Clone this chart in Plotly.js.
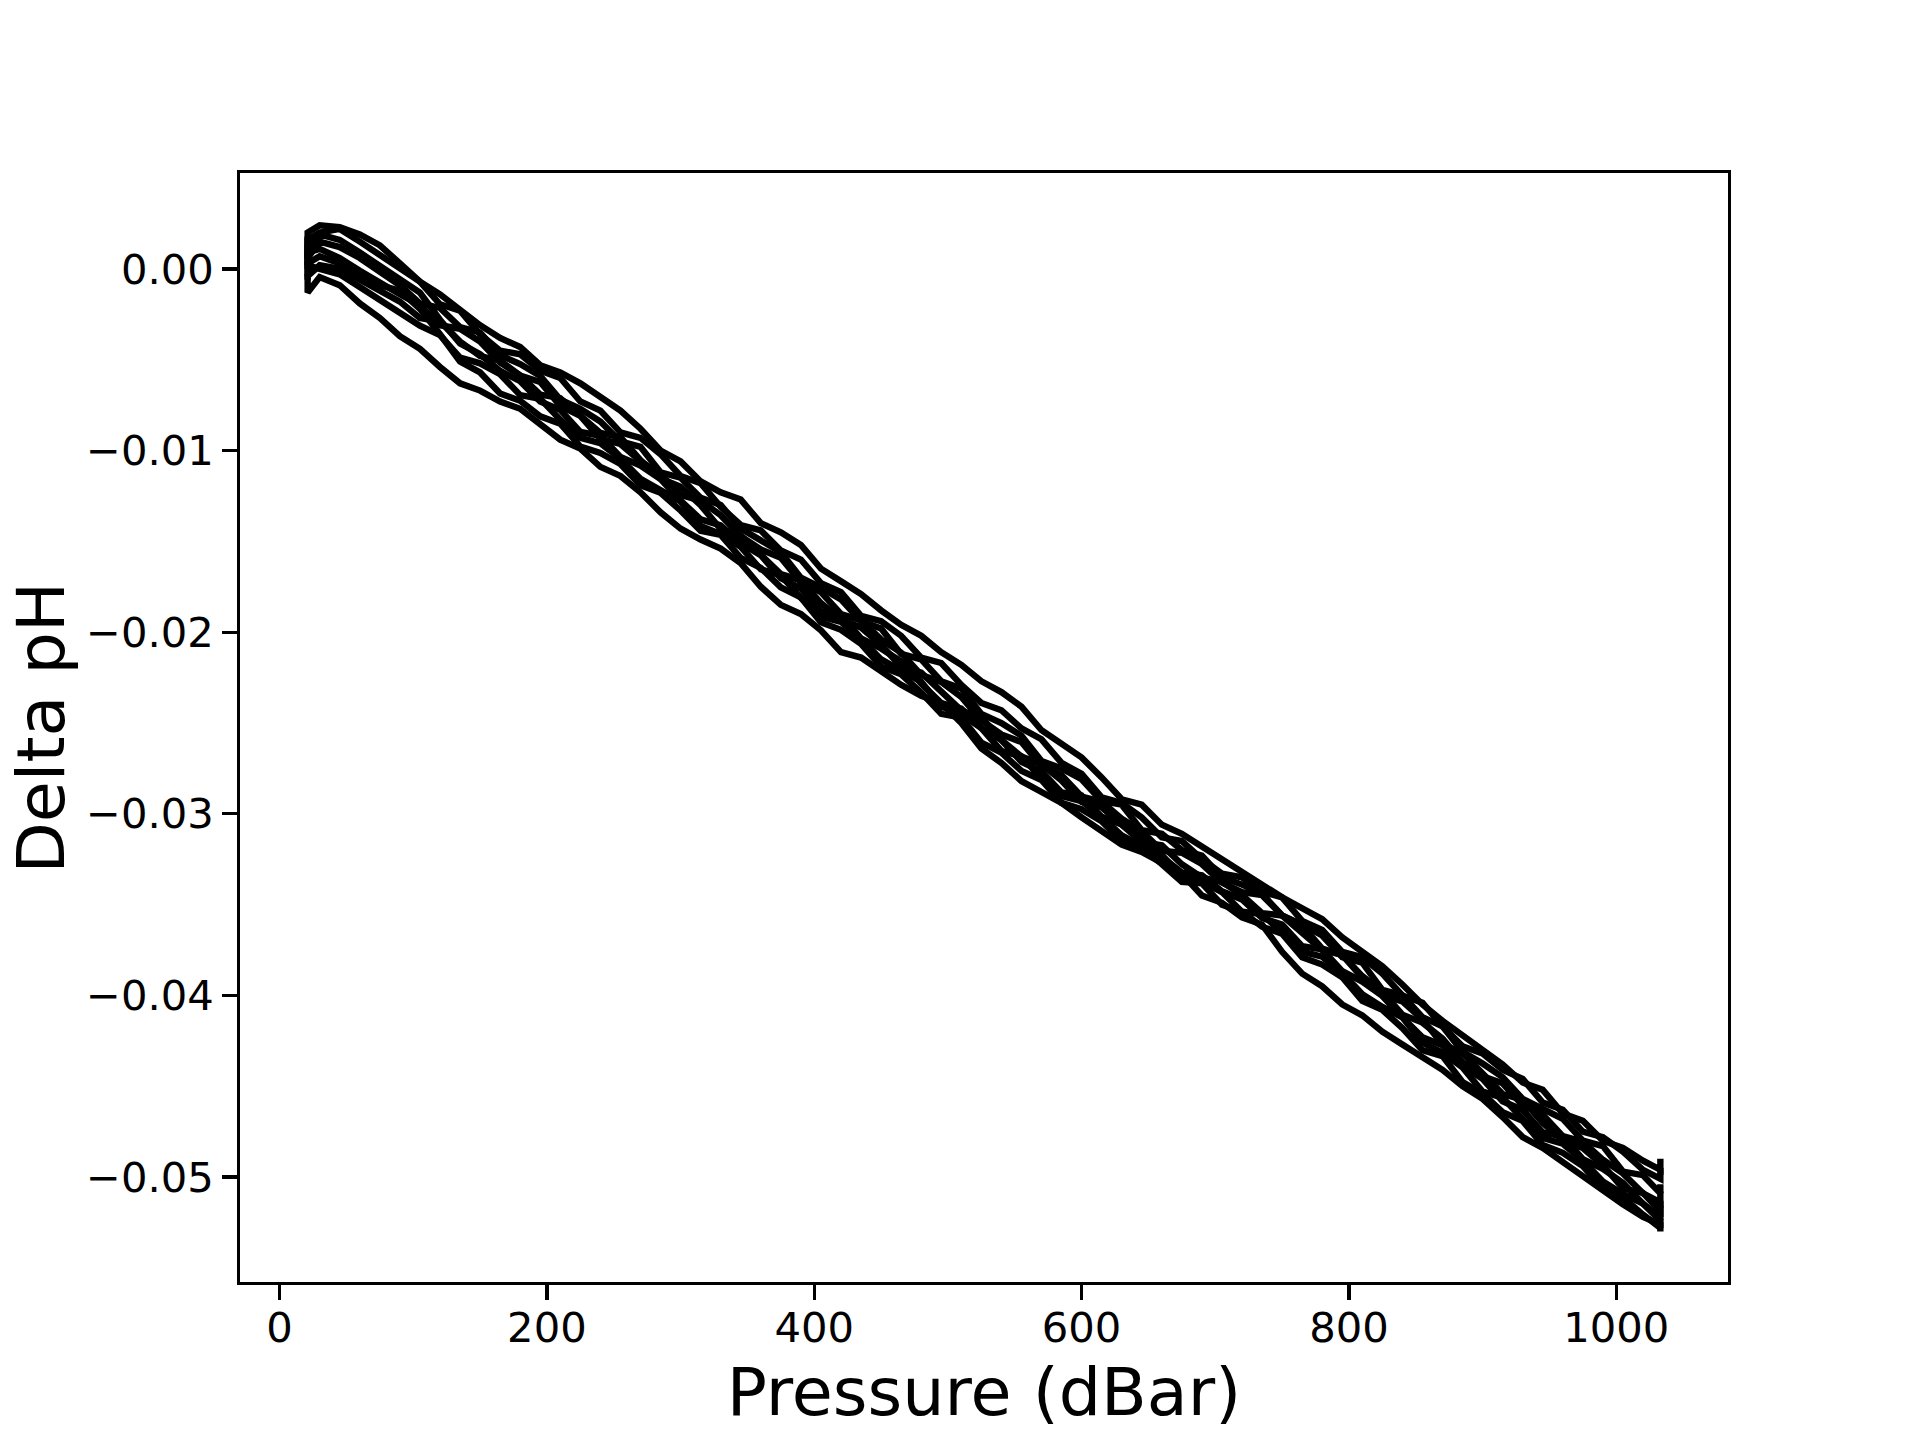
<!DOCTYPE html>
<html>
<head>
<meta charset="utf-8">
<script src="https://cdn.plot.ly/plotly-3.0.1.min.js"></script>
<style>
  html, body { margin: 0; padding: 0; background: #ffffff; }
  #myDiv { width: 1920px; height: 1440px; }
</style>
</head>
<body>
<div id="myDiv"></div>
<script>
// pressure grid shared by all profiles (dBar); repeated ends give the vertical caps
var pressure = [21, 21, 30, 45, 60, 75, 90, 105, 120, 135, 150, 165, 180, 195, 210, 225, 240, 255, 270, 285,
  300, 315, 330, 345, 360, 375, 390, 405, 420, 435, 450, 465, 480, 495, 510, 525, 540, 555, 570, 585,
  600, 615, 630, 645, 660, 675, 690, 705, 720, 735, 750, 765, 780, 795, 810, 825, 840, 855, 870, 885,
  900, 915, 930, 945, 960, 975, 990, 1005, 1020, 1033, 1033];

// delta pH for each profile
var dph1 = [0.0002, 0.0020, 0.0024, 0.0023, 0.0019, 0.0013, 0.0003, -0.0007, -0.0014, -0.0023,
  -0.0031, -0.0038, -0.0043, -0.0053, -0.0057, -0.0063, -0.0070, -0.0078, -0.0088, -0.0100,
  -0.0106, -0.0117, -0.0123, -0.0127, -0.0140, -0.0145, -0.0152, -0.0165, -0.0172, -0.0179,
  -0.0188, -0.0196, -0.0202, -0.0211, -0.0218, -0.0227, -0.0233, -0.0241, -0.0254, -0.0261,
  -0.0269, -0.0280, -0.0292, -0.0295, -0.0306, -0.0311, -0.0318, -0.0326, -0.0333, -0.0339,
  -0.0346, -0.0352, -0.0358, -0.0368, -0.0376, -0.0384, -0.0394, -0.0405, -0.0414, -0.0422,
  -0.0429, -0.0438, -0.0448, -0.0452, -0.0465, -0.0469, -0.0480, -0.0484, -0.0491, -0.0496, -0.0490];
var dph2 = [0.0005, 0.0016, 0.0020, 0.0022, 0.0015, 0.0008, 0.0000, -0.0007, -0.00195, -0.0023,
  -0.0036, -0.0045, -0.0047, -0.0056, -0.0060, -0.0073, -0.0078, -0.0090, -0.0093, -0.0102,
  -0.0114, -0.0118, -0.0131, -0.0141, -0.0144, -0.0155, -0.0160, -0.0173, -0.0178, -0.0191,
  -0.0194, -0.0202, -0.0214, -0.0217, -0.0229, -0.0239, -0.0243, -0.0253, -0.0259, -0.0272,
  -0.0278, -0.0291, -0.0294, -0.0302, -0.0313, -0.0315, -0.0325, -0.0333, -0.0335, -0.0343,
  -0.0346, -0.0359, -0.0364, -0.0376, -0.0379, -0.0388, -0.0400, -0.0404, -0.0417, -0.0428,
  -0.0432, -0.0441, -0.0446, -0.0459, -0.0463, -0.0475, -0.0478, -0.0486, -0.0496, -0.0501, -0.0495];
var dph3 = [0.0014, 0.0006, 0.0015, 0.0012, 0.0006, -0.0001, -0.0009, -0.0019, -0.00215, -0.0032,
  -0.0035, -0.00475, -0.00524, -0.0059, -0.0072, -0.0077, -0.0084, -0.0095, -0.0098, -0.0112,
  -0.0115, -0.0126, -0.0130, -0.0143, -0.0149, -0.0156, -0.0170, -0.01755, -0.0182, -0.0194,
  -0.0198, -0.0212, -0.0215, -0.0227, -0.0231, -0.0245, -0.0250, -0.0257, -0.0271, -0.0275,
  -0.0281, -0.0293, -0.0295, -0.0309, -0.0311, -0.0320, -0.0323, -0.0335, -0.0339, -0.0344,
  -0.0356, -0.0361, -0.0367, -0.0379, -0.0382, -0.0397, -0.0400, -0.0412, -0.0417, -0.0431,
  -0.04375, -0.0445, -0.0457, -0.04625, -0.0468, -0.0480, -0.0483, -0.0497, -0.0499, -0.0509, -0.0504];
var dph4 = [0.0000, 0.0009, 0.0011, 0.0006, -0.0001, -0.0008, -0.0014, -0.0020, -0.0031, -0.0033,
  -0.0040, -0.00516, -0.00587, -0.00623, -0.00754, -0.0081, -0.00936, -0.00964, -0.01059, -0.0113,
  -0.01245, -0.01276, -0.01356, -0.01472, -0.01545, -0.0159, -0.01725, -0.0178, -0.0190, -0.01935,
  -0.0204, -0.02113, -0.02236, -0.02274, -0.02357, -0.02485, -0.02563, -0.02605, -0.02738, -0.02787,
  -0.02905, -0.02934, -0.03027, -0.03096, -0.03203, -0.03215, -0.03277, -0.03379, -0.03431, -0.03448,
  -0.0356, -0.03616, -0.03742, -0.03778, -0.03894, -0.0398, -0.04106, -0.0415, -0.04238, -0.04367,
  -0.04445, -0.04484, -0.04607, -0.04656, -0.04775, -0.04805, -0.04905, -0.0498, -0.0509, -0.0514, -0.0508];
var dph5 = [0.0003, -0.0004, 0.0002, 0.0000, -0.0006, -0.0012, -0.0018, -0.0027, -0.0029, -0.0040,
  -0.0048, -0.00505, -0.00586, -0.00692, -0.00712, -0.00808, -0.00903, -0.00927, -0.01053, -0.01154,
  -0.0120, -0.01301, -0.01432, -0.01468, -0.01575, -0.0168, -0.01715, -0.0184, -0.0193, -0.01975,
  -0.0207, -0.02192, -0.02223, -0.0233, -0.02431, -0.02468, -0.02594, -0.02685, -0.02728, -0.02817,
  -0.02935, -0.02964, -0.03057, -0.03156, -0.03174, -0.03278, -0.03351, -0.03375, -0.03448, -0.03547,
  -0.0356, -0.03656, -0.03751, -0.03777, -0.03902, -0.03998, -0.04033, -0.04132, -0.04269, -0.04317,
  -0.04435, -0.04543, -0.04575, -0.04703, -0.04798, -0.04841, -0.04935, -0.05063, -0.05087, -0.0519, -0.0513];
var dph6 = [0.0018, 0.0010, 0.0019, 0.0016, 0.0009, 0.0002, -0.0005, -0.0013, -0.0028, -0.0041,
  -0.0047, -0.00562, -0.00618, -0.0073, -0.00776, -0.00898, -0.00919, -0.01035, -0.01083, -0.01157,
  -0.01275, -0.01379, -0.01412, -0.0151, -0.01576, -0.01703, -0.01759, -0.01886, -0.01907, -0.02034,
  -0.0209, -0.02162, -0.02283, -0.0239, -0.02421, -0.02528, -0.02594, -0.02714, -0.02766, -0.02883,
  -0.0290, -0.03017, -0.03059, -0.03126, -0.03236, -0.03323, -0.03339, -0.03426, -0.03472, -0.03574,
  -0.0361, -0.03729, -0.03747, -0.03866, -0.03924, -0.04003, -0.04121, -0.04231, -0.04274, -0.04387,
  -0.0446, -0.04583, -0.04631, -0.04754, -0.04777, -0.04901, -0.04955, -0.05033, -0.05147, -0.0522, -0.0516];
var dph7 = [-0.0006, 0.0002, 0.0000, -0.0003, -0.0010, -0.0017, -0.0024, -0.00313, -0.00365, -0.00488,
  -0.0052, -0.0058, -0.00695, -0.00715, -0.0083, -0.0093, -0.0096, -0.01045, -0.01155, -0.0122,
  -0.0128, -0.01415, -0.0146, -0.0153, -0.01654, -0.01688, -0.01811, -0.01915, -0.01943, -0.02037,
  -0.0215, -0.02212, -0.02273, -0.0241, -0.02451, -0.02528, -0.02654, -0.02684, -0.02806, -0.02903,
  -0.0293, -0.03017, -0.03119, -0.03176, -0.03227, -0.03345, -0.03373, -0.03431, -0.03539, -0.03552,
  -0.0366, -0.03759, -0.03787, -0.03876, -0.03994, -0.04063, -0.04121, -0.04261, -0.04314, -0.04397,
  -0.0453, -0.04563, -0.04681, -0.04784, -0.04817, -0.0491, -0.05024, -0.05093, -0.05147, -0.0524, -0.0519];
var dph8 = [0.0010, 0.0003, 0.0007, 0.0003, -0.0004, -0.0009, -0.0012, -0.0022, -0.0036, -0.0051,
  -0.0057, -0.00686, -0.00726, -0.00812, -0.00852, -0.00978, -0.01013, -0.01074, -0.01191, -0.01233,
  -0.0133, -0.01442, -0.01464, -0.01591, -0.01646, -0.01753, -0.01809, -0.01946, -0.01987, -0.02064,
  -0.0219, -0.02232, -0.02333, -0.0245, -0.02471, -0.02608, -0.02664, -0.02764, -0.02814, -0.0294,
  -0.02975, -0.03041, -0.03151, -0.03187, -0.03277, -0.03375, -0.03383, -0.03501, -0.03539, -0.03622,
  -0.0366, -0.0379, -0.0383, -0.0390, -0.0403, -0.0408, -0.0418, -0.04301, -0.04334, -0.04477,
  -0.0454, -0.04643, -0.04691, -0.04824, -0.04867, -0.0494, -0.05064, -0.05113, -0.05207, -0.0528, -0.0523];
var dph9 = [-0.0003, -0.0013, -0.00045, -0.0009, -0.0019, -0.0027, -0.0037, -0.0044, -0.0054, -0.0063,
  -0.0067, -0.0073, -0.0077, -0.0086, -0.0094, -0.0099, -0.0109, -0.0114, -0.0123, -0.0134,
  -0.0143, -0.0149, -0.0154, -0.0162, -0.0175, -0.0185, -0.0190, -0.0199, -0.0211, -0.0214,
  -0.0222, -0.0229, -0.0235, -0.0239, -0.0250, -0.0264, -0.0272, -0.0282, -0.0288, -0.0294,
  -0.0302, -0.0310, -0.0317, -0.0321, -0.0327, -0.0333, -0.0345, -0.0349, -0.0357, -0.0361,
  -0.0376, -0.0388, -0.0395, -0.0405, -0.0411, -0.0420, -0.0427, -0.0434, -0.0441, -0.0450,
  -0.0457, -0.0467, -0.0478, -0.0484, -0.0492, -0.0499, -0.0507, -0.0515, -0.0522, -0.0526, -0.0530];

var profiles = [dph1, dph2, dph3, dph4, dph5, dph6, dph7, dph8, dph9];

var xTicks = [0, 200, 400, 600, 800, 1000];
var yTicks = [0, -0.01, -0.02, -0.03, -0.04, -0.05];
var yTickText = ['0.00', '\u22120.01', '\u22120.02', '\u22120.03', '\u22120.04', '\u22120.05'];

var data = profiles.map(function (vals, i) {
  return {
    x: pressure, y: vals,
    mode: 'lines',
    type: 'scatter',
    name: 'profile ' + (i + 1),
    line: {color: '#000000', width: 6.4},
    showlegend: false
  };
});

var axisStyle = {
  showline: true, mirror: true, linecolor: '#000000', linewidth: 3.3,
  ticks: 'outside', ticklen: 14.6, tickwidth: 3.3, tickcolor: '#000000',
  showgrid: false, zeroline: false,
  tickfont: {family: 'DejaVu Sans', size: 41.7, color: '#000000'}
};

var layout = {
  width: 1920, height: 1440,
  paper_bgcolor: '#ffffff', plot_bgcolor: '#ffffff',
  margin: {l: 240, r: 192, t: 173, b: 158, pad: 0},
  font: {family: 'DejaVu Sans', color: '#000000'},
  xaxis: Object.assign({}, axisStyle, {
    range: [-29.6, 1083.6],
    tickvals: xTicks,
    ticktext: xTicks.map(String),
    ticklabelstandoff: -8,
    title: {text: 'Pressure (dBar)', font: {family: 'DejaVu Sans', size: 66.7, color: '#000000'}, standoff: 18},
    automargin: false
  }),
  yaxis: Object.assign({}, axisStyle, {
    range: [-0.05578, 0.00528],
    tickvals: yTicks,
    ticktext: yTickText,
    automargin: false
  }),
  // y axis title placed as a rotated annotation so it can sit close to the page edge
  annotations: [{
    text: 'Delta pH',
    xref: 'paper', yref: 'paper',
    x: -0.1344, y: 0.5,
    xanchor: 'center', yanchor: 'middle',
    textangle: -90,
    showarrow: false,
    font: {family: 'DejaVu Sans', size: 66.7, color: '#000000'}
  }]
};

Plotly.newPlot('myDiv', data, layout, {staticPlot: true});
</script>
</body>
</html>
